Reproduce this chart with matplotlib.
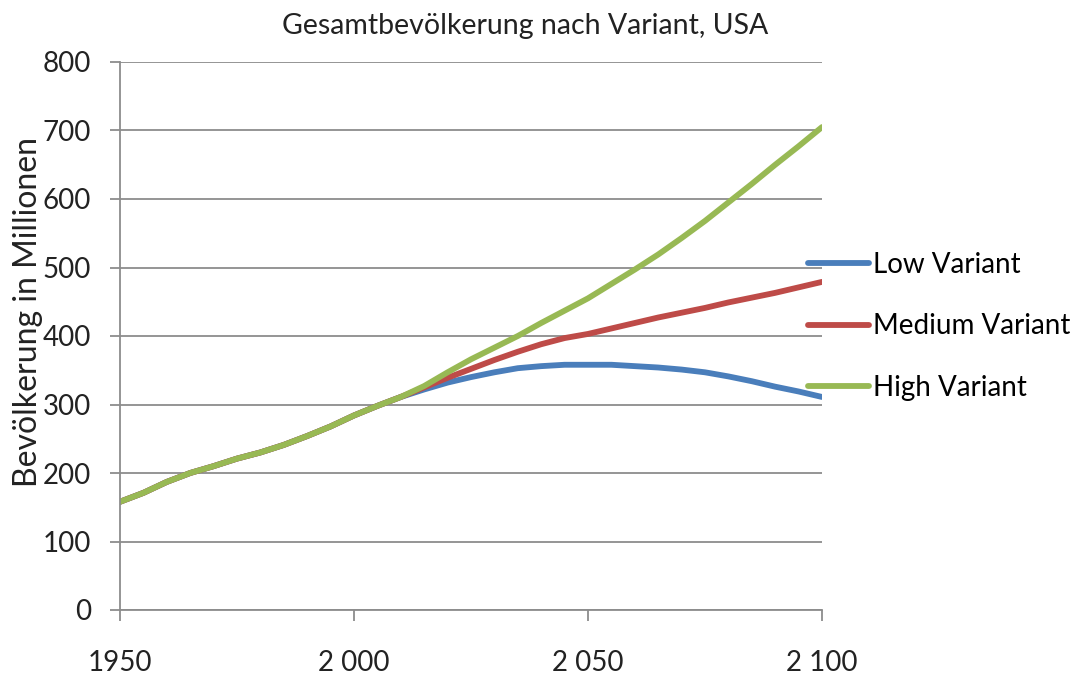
import numpy as np
import matplotlib
matplotlib.use("Agg")
import matplotlib.pyplot as plt
from matplotlib.ticker import FixedLocator, FixedFormatter

plt.rcParams["font.family"] = ["Lato", "DejaVu Sans"]

# Data (5-year steps)
years = list(range(1950, 2101, 5))
history = [158, 171, 187, 200, 210, 221, 230, 241, 254, 268, 284, 298, 311]
low_proj = [322, 332, 340, 347, 353, 356, 358, 358, 358, 356, 354, 351,
            347, 341, 334, 326, 319, 311]
medium_proj = [325, 339, 352, 365, 377, 388, 397, 403, 411, 419, 427, 434,
               441, 449, 456, 463, 471, 479]
high_proj = [327, 347, 366, 383, 400, 419, 437, 455, 476, 497, 519, 543,
             568, 595, 622, 650, 677, 705]

low = history + low_proj
medium = history + medium_proj
high = history + high_proj

series_names = ["Low Variant", "Medium Variant", "High Variant"]
xtick_vals = [1950, 2000, 2050, 2100]
xtick_labels = ["1950", "2 000", "2 050", "2 100"]
ytick_vals = list(range(0, 801, 100))

colors = ["#4A7EBB", "#BE4B48", "#98B954"]
grid_col = "#8C8C8C"

fig = plt.figure(figsize=(10.77, 6.78), dpi=100)
ax = fig.add_axes([120 / 1077, 1 - 610 / 678, (822 - 120) / 1077, (610 - 62) / 678])

for vals, name, c in zip([low, medium, high], series_names, colors):
    ax.plot(years, vals, color=c, lw=4.2, label=name, solid_capstyle="round")

ax.set_xlim(1950, 2100)
ax.set_ylim(0, 800)
ax.xaxis.set_major_locator(FixedLocator(xtick_vals))
ax.xaxis.set_major_formatter(FixedFormatter(xtick_labels))
ax.set_yticks(ytick_vals)

ax.yaxis.grid(True, color=grid_col, lw=1.3)
ax.set_axisbelow(True)
for s in ["top", "right"]:
    ax.spines[s].set_visible(False)
for s in ["left", "bottom"]:
    ax.spines[s].set_color(grid_col)
    ax.spines[s].set_linewidth(1.3)

ax.tick_params(axis="y", length=7, width=1.3, color=grid_col, pad=14,
               labelsize=20, labelcolor="#222222")
ax.tick_params(axis="x", length=8, width=1.3, color=grid_col, pad=21,
               labelsize=20, labelcolor="#222222")

fig.text(525 / 1077, 1 - 26 / 678, "Gesamtbevölkerung nach Variant, USA",
         ha="center", va="center", fontsize=20.5, color="#222222")
fig.text(28 / 1077, 1 - 312 / 678, "Bevölkerung in Millionen", rotation=90,
         ha="center", va="center", fontsize=23, color="#222222")

ax.legend(loc="upper left", bbox_to_anchor=(808 / 1077, 1 - 252 / 678),
          bbox_transform=fig.transFigure, frameon=False, fontsize=20,
          handlelength=2.2, handletextpad=0.15, labelspacing=1.27,
          borderpad=0, borderaxespad=0)

fig.savefig("out.png", dpi=100)
